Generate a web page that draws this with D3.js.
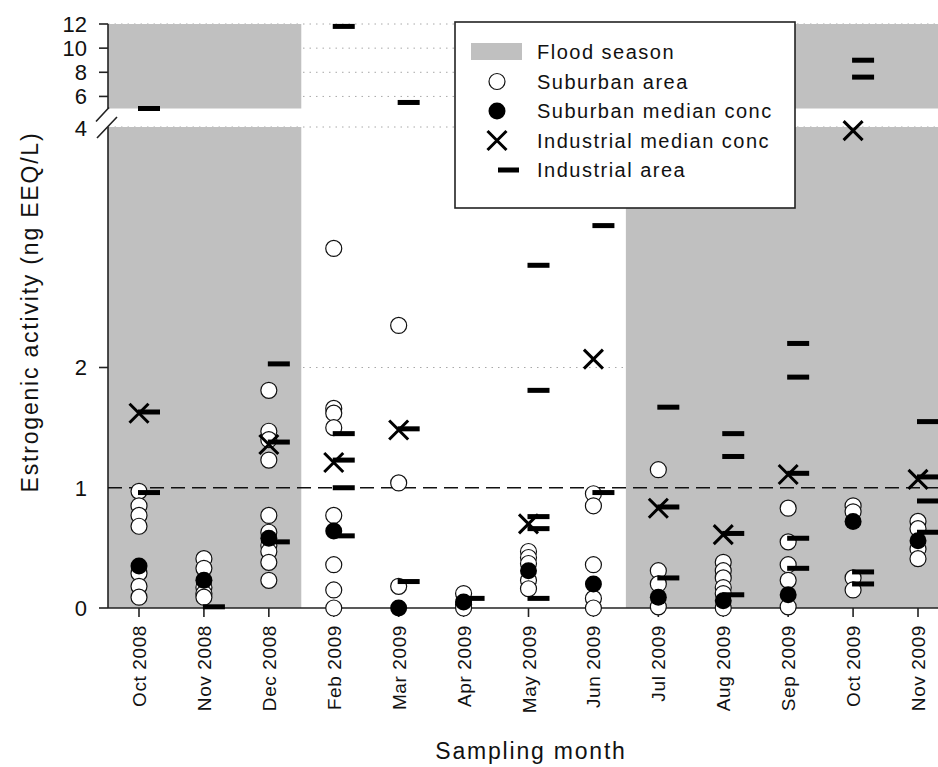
<!DOCTYPE html>
<html>
<head>
<meta charset="utf-8">
<script src="https://cdn.jsdelivr.net/npm/d3@7"></script>
<style>
  body { margin: 0; background: #fff; }
  text { font-family: "Liberation Sans", Arial, sans-serif; fill: #111; }
</style>
</head>
<body>
<div id="chart"></div>
<script>
(function(d3) {
  "use strict";

  // Sampling months (x categories)
  var months = ["Oct 2008", "Nov 2008", "Dec 2008", "Feb 2009", "Mar 2009", "Apr 2009", "May 2009",
                "Jun 2009", "Jul 2009", "Aug 2009", "Sep 2009", "Oct 2009", "Nov 2009"];

  // Suburban area samples (open circles), one list per month
  var suburban = [
    [0.97, 0.85, 0.77, 0.68, 0.29, 0.18, 0.09],
    [0.41, 0.33, 0.17, 0.12, 0.09],
    [1.81, 1.47, 1.40, 1.23, 0.77, 0.63, 0.52, 0.47, 0.38, 0.23],
    [2.99, 1.66, 1.62, 1.50, 0.77, 0.36, 0.15, 0.0],
    [2.35, 1.04, 0.18],
    [0.12, 0.03, 0.0],
    [0.47, 0.42, 0.37, 0.23, 0.16],
    [0.95, 0.85, 0.36, 0.08, 0.0],
    [1.15, 0.31, 0.20, 0.01],
    [0.38, 0.31, 0.25, 0.17, 0.12, 0.0],
    [0.83, 0.55, 0.36, 0.23, 0.01],
    [0.85, 0.80, 0.25, 0.15],
    [0.72, 0.66, 0.49, 0.41]
  ];
  var suburbanMedian = [0.35, 0.23, 0.58, 0.64, 0.0, 0.05, 0.31, 0.20, 0.09, 0.06, 0.11, 0.72, 0.56];

  // Industrial area samples (dashes)
  var industrial = [
    [5.0, 1.63, 0.96],
    [0.01],
    [2.03, 1.38, 0.55],
    [11.8, 1.45, 1.23, 1.00, 0.60],
    [5.5, 1.49, 0.22],
    [0.08],
    [2.85, 1.81, 0.76, 0.66, 0.08],
    [3.18, 0.96],
    [1.67, 0.84, 0.25],
    [1.45, 1.26, 0.62, 0.11],
    [2.20, 1.92, 1.12, 0.58, 0.33],
    [9.0, 7.6, 0.30, 0.20],
    [1.55, 1.09, 0.89, 0.63]
  ];
  var industrialMedian = [1.62, null, 1.36, 1.21, 1.48, null, 0.70, 2.07, 0.83, 0.61, 1.11, 3.97, 1.07];

  // Flood season spans (first and last month)
  var floodSeasons = [["Oct 2008", "Dec 2008"], ["Jul 2009", "Nov 2009"]];

  var lowTicks = [0, 1, 2];
  var highTicks = [6, 8, 10, 12];
  var gridValues = [2, 4, 6, 8, 10, 12];

  var width = 938, height = 767;
  var Graph = { left: 108, right: 938, bottom: 608, lowTop: 127, highBottom: 108.5, highTop: 24 };

  var svg = d3.select("#chart")
    .append("svg")
    .attr("width", width)
    .attr("height", height);

  // Scales: broken y axis, lower panel 0-4, upper panel 5-12
  var x = d3.scalePoint()
    .domain(months)
    .range([139, 918]);
  var step = x.step();
  var yLow = d3.scaleLinear().domain([0, 4]).range([Graph.bottom, Graph.lowTop]);
  var yHigh = d3.scaleLinear().domain([5, 12]).range([Graph.highBottom, Graph.highTop]);
  var y = function(v) { return v >= 4.5 ? yHigh(v) : yLow(v); };

  // dotted grid lines
  svg.append("g")
    .selectAll("line")
    .data(gridValues)
    .enter().append("line")
    .attr("x1", Graph.left)
    .attr("x2", Graph.right)
    .attr("y1", d => d === 4 ? yLow(4) : y(d))
    .attr("y2", d => d === 4 ? yLow(4) : y(d))
    .attr("stroke", "#a8a8a8")
    .attr("stroke-width", 1)
    .attr("stroke-dasharray", "1.5,5");

  // flood season bands
  var bandX = function(s) {
    var x0 = Math.max(Graph.left, x(s[0]) - step / 2);
    var x1 = Math.min(Graph.right, x(s[1]) + step / 2);
    return [x0, x1];
  };
  var flood = svg.append("g");
  floodSeasons.forEach(function(s) {
    var b = bandX(s);
    flood.append("rect")
      .attr("x", b[0]).attr("width", b[1] - b[0])
      .attr("y", Graph.lowTop).attr("height", Graph.bottom - Graph.lowTop)
      .attr("fill", "#c0c0c0");
    flood.append("rect")
      .attr("x", b[0]).attr("width", b[1] - b[0])
      .attr("y", Graph.highTop).attr("height", Graph.highBottom - Graph.highTop)
      .attr("fill", "#c0c0c0");
  });

  // axes
  var axisColor = "#222";
  var ax = svg.append("g").attr("stroke", axisColor).attr("stroke-width", 1.6);
  ax.append("line").attr("x1", Graph.left).attr("x2", Graph.left).attr("y1", Graph.bottom).attr("y2", Graph.lowTop);
  ax.append("line").attr("x1", Graph.left).attr("x2", Graph.left).attr("y1", Graph.highBottom).attr("y2", Graph.highTop);
  ax.append("line").attr("x1", Graph.left).attr("x2", Graph.right).attr("y1", Graph.bottom).attr("y2", Graph.bottom);

  ax.selectAll(".ytl").data([0, 2]).enter().append("line")
    .attr("x1", Graph.left - 9).attr("x2", Graph.left).attr("y1", d => yLow(d)).attr("y2", d => yLow(d));
  ax.selectAll(".yth").data(highTicks).enter().append("line")
    .attr("x1", Graph.left - 9).attr("x2", Graph.left).attr("y1", d => yHigh(d)).attr("y2", d => yHigh(d));
  ax.selectAll(".xt").data(months).enter().append("line")
    .attr("x1", d => x(d)).attr("x2", d => x(d)).attr("y1", Graph.bottom).attr("y2", Graph.bottom + 9);

  // axis break marks
  ax.append("path")
    .attr("fill", "none")
    .attr("d", `M${Graph.left - 12},${Graph.highBottom + 13} L${Graph.left + 1},${Graph.highBottom - 1}` +
               ` M${Graph.left - 11},${Graph.lowTop + 11} L${Graph.left + 9},${Graph.lowTop - 10}`);

  // y tick labels
  var yLabels = lowTicks.map(d => ({ v: d, pos: yLow(d) }))
    .concat([{ v: 4, pos: yLow(4) + 1 }])
    .concat(highTicks.map(d => ({ v: d, pos: yHigh(d) })));
  svg.append("g")
    .selectAll("text")
    .data(yLabels)
    .enter().append("text")
    .attr("x", 87)
    .attr("y", d => d.pos)
    .attr("dy", "0.36em")
    .attr("text-anchor", "end")
    .style("font-size", "22px")
    .text(d => d.v);

  // x tick labels
  svg.append("g")
    .selectAll("text")
    .data(months)
    .enter().append("text")
    .attr("transform", d => `translate(${x(d) + 7},${Graph.bottom + 17}) rotate(-90)`)
    .attr("text-anchor", "end")
    .style("font-size", "19px")
    .style("letter-spacing", "0.6px")
    .text(d => d);

  // axis titles
  svg.append("text")
    .attr("x", 531)
    .attr("y", 759)
    .attr("text-anchor", "middle")
    .style("font-size", "23px")
    .style("letter-spacing", "1.8px")
    .text("Sampling month");
  svg.append("text")
    .attr("transform", "translate(37.5,312) rotate(-90)")
    .attr("text-anchor", "middle")
    .style("font-size", "23px")
    .style("letter-spacing", "1.8px")
    .text("Estrogenic activity (ng EEQ/L)");

  // reference line at 1
  svg.append("line")
    .attr("x1", Graph.left).attr("x2", Graph.right)
    .attr("y1", yLow(1)).attr("y2", yLow(1))
    .attr("stroke", "#111")
    .attr("stroke-width", 1.6)
    .attr("stroke-dasharray", "14,7");

  // flatten the samples
  var subPoints = [], indPoints = [];
  months.forEach(function(m, i) {
    suburban[i].forEach(v => subPoints.push({ m: m, v: v }));
    industrial[i].forEach(v => indPoints.push({ m: m, v: v }));
  });
  var subMed = months.map((m, i) => ({ m: m, v: suburbanMedian[i] }));
  var indMed = months.map((m, i) => ({ m: m, v: industrialMedian[i] })).filter(d => d.v !== null);

  var xPath = "M-9.5,-9.5L9.5,9.5M-9.5,9.5L9.5,-9.5";

  // suburban area circles
  svg.append("g")
    .selectAll("circle")
    .data(subPoints)
    .enter().append("circle")
    .attr("cx", d => x(d.m))
    .attr("cy", d => y(d.v))
    .attr("r", 8)
    .attr("fill", "#fff")
    .attr("stroke", "#111")
    .attr("stroke-width", 1.2);

  // suburban median
  svg.append("g")
    .selectAll("circle")
    .data(subMed)
    .enter().append("circle")
    .attr("cx", d => x(d.m))
    .attr("cy", d => y(d.v))
    .attr("r", 8.5)
    .attr("fill", "#000");

  // industrial median
  svg.append("g")
    .selectAll("path")
    .data(indMed)
    .enter().append("path")
    .attr("transform", d => `translate(${x(d.m)},${y(d.v)})`)
    .attr("d", xPath)
    .attr("stroke", "#000")
    .attr("stroke-width", 3)
    .attr("fill", "none");

  // industrial area dashes
  svg.append("g")
    .selectAll("rect")
    .data(indPoints)
    .enter().append("rect")
    .attr("x", d => x(d.m) - 1)
    .attr("y", d => y(d.v) - 2.5)
    .attr("width", 22)
    .attr("height", 5)
    .attr("fill", "#000");

  // legend
  var legend = svg.append("g").attr("transform", "translate(455,22)");
  legend.append("rect")
    .attr("width", 340)
    .attr("height", 186)
    .attr("fill", "#fff")
    .attr("stroke", "#222")
    .attr("stroke-width", 1.6);
  var items = ["Flood season", "Suburban area", "Suburban median conc", "Industrial median conc", "Industrial area"];
  var rowY = d3.scaleLinear().domain([0, 4]).range([30, 148]);
  var sx = 42;
  legend.append("rect").attr("x", 16).attr("y", rowY(0) - 9).attr("width", 51).attr("height", 17).attr("fill", "#c0c0c0");
  legend.append("circle").attr("cx", sx).attr("cy", rowY(1)).attr("r", 8).attr("fill", "#fff").attr("stroke", "#111").attr("stroke-width", 1.2);
  legend.append("circle").attr("cx", sx).attr("cy", rowY(2)).attr("r", 8.5).attr("fill", "#000");
  legend.append("path").attr("transform", `translate(${sx},${rowY(3)})`).attr("d", xPath)
    .attr("stroke", "#000").attr("stroke-width", 3).attr("fill", "none");
  legend.append("rect").attr("x", sx + 1).attr("y", rowY(4) - 2.5).attr("width", 21).attr("height", 5).attr("fill", "#000");
  legend.selectAll(".lt")
    .data(items)
    .enter().append("text")
    .attr("x", 82)
    .attr("y", (d, i) => rowY(i))
    .attr("dy", "0.36em")
    .style("font-size", "20px")
    .style("letter-spacing", "1.5px")
    .text(d => d);

})(d3);
</script>
</body>
</html>
